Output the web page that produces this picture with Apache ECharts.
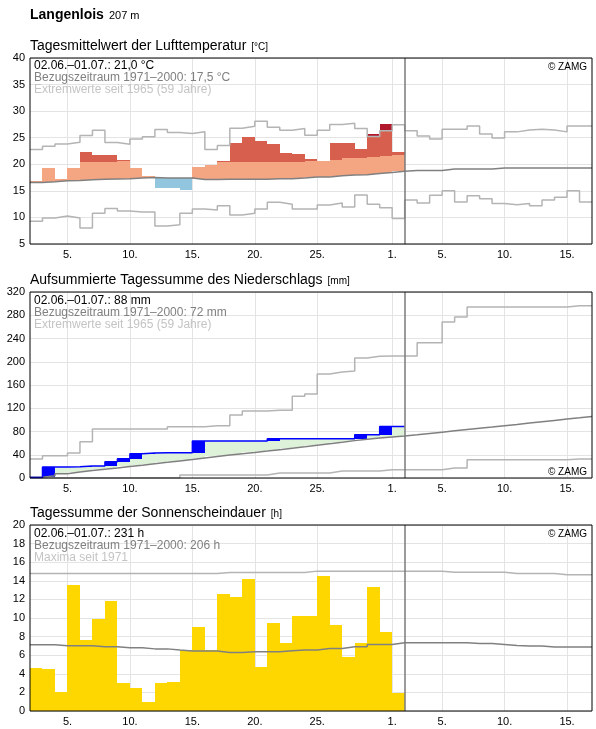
<!DOCTYPE html>
<html>
<head>
<meta charset="utf-8" />
<title>Langenlois</title>
<script src="https://cdn.jsdelivr.net/npm/echarts@6/dist/echarts.min.js"></script>
<style>
html, body { margin:0; padding:0; background:#fff; }
#main { width:596px; height:729px; }
</style>
</head>
<body>
<div id="main"></div>
<script type="text/javascript">
/* Tage ab 02.06. (Index 0 = 02.06., 29 = 01.07., 44 = 16.07.) */
var tickPos  = [3, 8, 13, 18, 23, 29, 33, 38, 43];
var tickText = ['5.', '10.', '15.', '20.', '25.', '1.', '5.', '10.', '15.'];
var dayEnd = 30;   /* Ende 01.07. */
var dayMax = 45;

/* Lufttemperatur, Tagesmittel [°C] */
var tempMean  = [16.8, 19.3, 17.25, 19.3, 22.3, 21.8, 21.8, 20.8, 19.3, 17.8,
                 15.6, 15.6, 15.15, 19.45, 19.85, 20.6, 24.0, 25.1, 24.35, 23.8,
                 22.1, 21.9, 20.95, 20.6, 24.0, 24.0, 22.85, 25.7, 27.55, 22.3];
var tempUpper = [19.9, 20.0, 20.2, 20.3, 20.4, 20.5, 20.5, 20.6, 20.6, 20.6,
                 20.6, 20.6, 20.6, 20.4, 20.4, 20.4, 20.4, 20.4, 20.4, 20.4,
                 20.5, 20.5, 20.6, 20.7, 20.9, 21.2, 21.2, 21.3, 21.55, 21.8];
var tempNorm  = [16.55, 16.7, 16.9, 16.95, 17.1, 17.2, 17.25, 17.3, 17.4, 17.5,
                 17.4, 17.4, 17.4, 17.15, 17.15, 17.2, 17.2, 17.2, 17.2, 17.3,
                 17.3, 17.4, 17.6, 17.6, 17.85, 18.0, 18.05, 18.25, 18.45, 18.7,
                 18.85, 18.85, 18.85, 19.1, 19.1, 19.1, 19.1, 19.3, 19.3, 19.3,
                 19.3, 19.3, 19.3, 19.3, 19.3];
var tempMax   = [22.8, 23.4, 23.8, 24.15, 25.4, 26.4, 24.1, 23.75, 24.75, 25.2,
                 26.55, 26.0, 25.8, 26.1, 22.8, 23.55, 26.8, 27.15, 28.1, 26.95,
                 26.4, 26.75, 25.45, 26.4, 27.5, 27.7, 26.75, 25.25, 26.3, 27.45,
                 26.3, 25.3, 24.75, 26.6, 26.6, 27.2, 25.7, 24.95, 26.1, 26.45,
                 26.6, 26.45, 26.1, 27.2, 27.2];
var tempMin   = [9.3, 9.9, 10.25, 9.9, 8.0, 10.8, 11.7, 11.2, 11.0, 11.0,
                 8.4, 8.6, 10.8, 11.6, 11.4, 12.2, 10.45, 10.8, 11.6, 12.85,
                 12.5, 11.6, 11.6, 12.35, 12.7, 11.95, 14.2, 12.5, 11.8, 9.8,
                 13.3, 12.7, 14.15, 15.0, 12.9, 14.1, 13.5, 12.6, 12.4, 12.6,
                 12.2, 13.3, 13.8, 15.0, 12.9];

/* Niederschlag, Tagessumme [mm] und Summenkurven */
var rainDay  = [1.0, 18.0, 0, 0.5, 1.0, 0, 7.5, 5.2, 8.6, 1.2,
                0.6, 0, 0, 20.1, 0, 0, 0, 0, 0, 3.9,
                0, 0, 0, 0, 0, 0, 6.9, 0, 14.3, 0];
var rainNorm = [1.5, 4.0, 7.5, 10.3, 12.8, 15.2, 17.3, 19.8, 22.0, 24.6,
                26.9, 29.3, 31.7, 34.4, 37.0, 39.4, 41.8, 44.0, 46.3, 48.8,
                51.3, 53.8, 56.5, 59.0, 61.5, 64.3, 66.8, 69.0, 70.7, 72.2,
                74.3, 76.6, 78.9, 81.1, 83.3, 85.5, 87.7, 90.0, 92.2, 94.5,
                96.8, 99.0, 101.3, 103.6, 106.0];
var rainMax  = [32.7, 38.4, 38.4, 43.0, 62.5, 84.3, 84.3, 84.3, 84.3, 84.3,
                84.3, 88.3, 88.3, 88.3, 90.0, 90.0, 108.4, 115.3, 115.3, 116.4,
                116.4, 140.5, 144.5, 178.9, 182.3, 184.0, 206.4, 209.3, 210.0, 210.0,
                210.0, 232.8, 232.8, 268.4, 277.0, 294.2, 294.2, 294.2, 294.2, 294.2,
                294.2, 294.2, 294.2, 296.4, 296.4];
var rainMin  = [0, 0, 0, 0, 0, 0, 0, 0, 0, 0,
                0, 0, 5.2, 5.2, 5.2, 5.2, 5.2, 5.2, 5.2, 8.6,
                8.6, 8.6, 8.6, 8.6, 12.0, 12.0, 12.0, 12.0, 14.3, 14.3,
                14.3, 14.3, 14.3, 17.2, 17.2, 31.5, 31.5, 31.5, 31.5, 31.5,
                31.5, 31.5, 31.5, 32.7, 32.7];

/* Sonnenscheindauer [h] */
var sunDay  = [4.64, 4.53, 2.05, 13.5, 7.66, 9.93, 11.87, 3.02, 2.48, 0.97,
               3.02, 3.13, 6.51, 9.06, 6.55, 12.63, 12.3, 14.24, 4.75, 9.5,
               7.34, 10.25, 10.25, 14.53, 9.28, 5.86, 7.34, 13.38, 8.53, 1.94];
var sunNorm = [7.12, 7.12, 7.02, 7.02, 7.02, 6.9, 6.9, 6.8, 6.8, 6.68,
               6.68, 6.55, 6.44, 6.44, 6.44, 6.3, 6.3, 6.36, 6.36, 6.36,
               6.47, 6.57, 6.57, 6.72, 6.72, 6.92, 6.92, 7.15, 7.15, 7.35,
               7.35, 7.35, 7.35, 7.35, 7.35, 7.25, 7.25, 7.15, 7.05, 6.98,
               6.98, 6.88, 6.88, 6.88, 6.88];
var sunMax  = [14.78, 14.78, 14.78, 14.78, 14.78, 14.78, 14.78, 14.78, 14.78, 14.78,
               14.78, 14.78, 14.78, 14.78, 14.78, 14.89, 14.89, 14.89, 14.89, 14.89,
               14.89, 14.89, 15.04, 15.04, 15.04, 15.04, 15.04, 15.04, 15.04, 15.04,
               15.03, 15.03, 15.03, 14.92, 14.92, 14.92, 14.92, 14.92, 14.78, 14.78,
               14.78, 14.78, 14.64, 14.64, 14.64];

var FONT = '"Liberation Sans", Arial, sans-serif';
var chart = echarts.init(document.getElementById('main'), null, {renderer: 'canvas'});

/* Stufenlinie: Wert gilt fuer den ganzen Tag */
function stepData(arr) {
    var d = [];
    for (var i = 0; i < arr.length; i++) d.push([i, arr[i]]);
    d.push([arr.length, arr[arr.length - 1]]);
    return d;
}
function stepLine(k, arr, color, width, z) {
    return {
        type: 'line', xAxisIndex: k, yAxisIndex: k, step: 'end',
        data: stepData(arr), symbol: 'none', silent: true, z: z,
        lineStyle: {color: color, width: width}
    };
}
/* Rechteck zwischen zwei Werten fuer Tag i, auf ganze Pixel gerundet */
function box(api, i, lo, hi, color) {
    var a = api.coord([i, hi]), b = api.coord([i + 1, lo]);
    var x0 = Math.round(a[0]), x1 = Math.round(b[0]);
    var y0 = Math.round(a[1]), y1 = Math.round(b[1]);
    return {type: 'rect', shape: {x: x0, y: y0, width: x1 - x0, height: Math.max(y1 - y0, 0)},
            style: {fill: color}};
}
/* senkrechte Gitterlinien (unter den Balken) */
function gridLines(k, yv) {
    return {
        type: 'line', xAxisIndex: k, yAxisIndex: k, data: [[0, yv]], symbol: 'none', silent: true, z: 1,
        markLine: {silent: true, symbol: 'none', label: {show: false}, animation: false, z: 1,
            lineStyle: {color: '#e4e4e4', width: 1, type: 'solid'},
            data: tickPos.map(function (p) { return {xAxis: p}; })}
    };
}
/* Trennlinie Ende 01.07. */
function endLine(k, yv) {
    return {
        type: 'line', xAxisIndex: k, yAxisIndex: k, data: [[0, yv]], symbol: 'none', silent: true, z: 6,
        markLine: {silent: true, symbol: 'none', label: {show: false}, animation: false, z: 6,
            lineStyle: {color: '#7a7a7a', width: 1.5, type: 'solid'},
            data: [{xAxis: dayEnd}]}
    };
}

var tempData = tempMean.map(function (t, i) { return [i, t, tempNorm[i], tempUpper[i], tempMax[i]]; });
var rainData = [];
var cum = 0, rainCum = [];
for (var i = 0; i < rainDay.length; i++) {
    var prev = cum;
    cum += rainDay[i];
    rainCum.push(+cum.toFixed(1));
    rainData.push([i, cum, prev, rainNorm[i]]);
}
var sunData = sunDay.map(function (v, i) { return [i, v]; });

var tops = [58, 292, 525];
var grids = tops.map(function (t) {
    return {left: 30, top: t, width: 562, height: 186, show: true, z: 10,
            borderColor: '#000', borderWidth: 1, backgroundColor: 'transparent'};
});
var xAxes = tops.map(function (t, k) {
    return {
        type: 'value', gridIndex: k, min: 0, max: dayMax, interval: 1,
        axisLine: {show: false}, axisTick: {show: false}, splitLine: {show: false},
        axisLabel: {color: '#000', fontSize: 11, fontFamily: FONT, margin: 5,
            formatter: function (v) { var n = tickPos.indexOf(v); return n >= 0 ? tickText[n] : ''; }}
    };
});
var yDefs = [[5, 40, 5], [0, 320, 40], [0, 20, 2]];
var yAxes = yDefs.map(function (d, k) {
    return {
        type: 'value', gridIndex: k, min: d[0], max: d[1], interval: d[2],
        axisLine: {show: false}, axisTick: {show: false},
        splitLine: {lineStyle: {color: '#e4e4e4', width: 1}},
        axisLabel: {color: '#000', fontSize: 11, fontFamily: FONT, margin: 5}
    };
});

function titleText(main, unit, top) {
    return {
        text: '{a|' + main + '} {u|[' + unit + ']}', left: 30, top: top, padding: 0,
        textStyle: {fontWeight: 'normal', rich: {
            a: {fontSize: 14, color: '#000', fontFamily: FONT, fontWeight: 'normal'},
            u: {fontSize: 10, color: '#000', fontFamily: FONT, fontWeight: 'normal', padding: [2, 0, 0, 0]}
        }}
    };
}
function infoText(top, l1, l2, l3) {
    return {
        type: 'text', left: 34, top: top, z: 20, silent: true,
        style: {
            text: '{a|' + l1 + '}\n{b|' + l2 + '}\n{c|' + l3 + '}',
            rich: {
                a: {fontSize: 12, fontFamily: FONT, fill: '#000', lineHeight: 12},
                b: {fontSize: 12, fontFamily: FONT, fill: '#808080', lineHeight: 12},
                c: {fontSize: 12, fontFamily: FONT, fill: '#c4c4c4', lineHeight: 12}
            }
        }
    };
}
function zamg(top) {
    return {type: 'text', right: 9, top: top, z: 20, silent: true,
            style: {text: '\u00a9 ZAMG', fontSize: 10, fontFamily: FONT, fill: '#000'}};
}

var option = {
    animation: false,
    backgroundColor: '#fff',
    title: [
        {text: '{a|Langenlois} {b|207 m}', left: 30, top: 6, padding: 0,
         textStyle: {rich: {a: {fontSize: 14, fontWeight: 'bold', color: '#000', fontFamily: FONT},
                            b: {fontSize: 11, fontWeight: 'normal', color: '#000', fontFamily: FONT, padding: [2, 0, 0, 0]}}}},
        titleText('Tagesmittelwert der Lufttemperatur', '\u00b0C', 37),
        titleText('Aufsummierte Tagessumme des Niederschlags', 'mm', 271),
        titleText('Tagessumme der Sonnenscheindauer', 'h', 504)
    ],
    grid: grids,
    xAxis: xAxes,
    yAxis: yAxes,
    graphic: [
        infoText(60, '02.06.\u201301.07.: 21,0 \u00b0C', 'Bezugszeitraum 1971\u20132000: 17,5 \u00b0C', 'Extremwerte seit 1965 (59 Jahre)'),
        infoText(295, '02.06.\u201301.07.: 88 mm', 'Bezugszeitraum 1971\u20132000: 72 mm', 'Extremwerte seit 1965 (59 Jahre)'),
        infoText(528, '02.06.\u201301.07.: 231 h', 'Bezugszeitraum 1971\u20132000: 206 h', 'Maxima seit 1971'),
        zamg(62), zamg(467), zamg(529)
    ],
    series: [
        /* Temperatur */
        gridLines(0, 5),
        {
            type: 'custom', xAxisIndex: 0, yAxisIndex: 0, data: tempData, z: 2, silent: true,
            encode: {x: 0, y: 1},
            renderItem: function (params, api) {
                var i = api.value(0), t = api.value(1), n = api.value(2), s = api.value(3), mx = api.value(4);
                var parts = [];
                if (t >= n) {
                    parts.push(box(api, i, n, Math.min(t, s), '#f4a582'));
                    if (t > s) parts.push(box(api, i, s, Math.min(t, mx), '#d6604d'));
                    if (t > mx) parts.push(box(api, i, mx, t, '#b2182b'));
                } else {
                    parts.push(box(api, i, t, n, '#92c5de'));
                }
                return {type: 'group', children: parts};
            }
        },
        stepLine(0, tempMax, '#b4b4b4', 1.5, 3),
        stepLine(0, tempMin, '#b4b4b4', 1.5, 3),
        stepLine(0, tempNorm, '#808080', 1.5, 4),
        endLine(0, 5),

        /* Niederschlag */
        gridLines(1, 0),
        {
            type: 'custom', xAxisIndex: 1, yAxisIndex: 1, data: rainData, z: 2, silent: true,
            encode: {x: 0, y: 1},
            renderItem: function (params, api) {
                var i = api.value(0), c = api.value(1), p = api.value(2), n = api.value(3);
                var parts = [];
                if (c > n) parts.push(box(api, i, n, c, '#def2d9'));
                if (c > p) parts.push(box(api, i, p, c, '#0000ff'));
                return {type: 'group', children: parts};
            }
        },
        stepLine(1, rainMax, '#b4b4b4', 1.5, 3),
        stepLine(1, rainMin, '#b4b4b4', 1.5, 3),
        stepLine(1, rainNorm, '#808080', 1.5, 4),
        stepLine(1, rainCum, '#0000ff', 1.5, 5),
        endLine(1, 0),

        /* Sonnenschein */
        gridLines(2, 0),
        {
            type: 'custom', xAxisIndex: 2, yAxisIndex: 2, data: sunData, z: 2, silent: true,
            encode: {x: 0, y: 1},
            renderItem: function (params, api) {
                return box(api, api.value(0), 0, api.value(1), '#ffd700');
            }
        },
        stepLine(2, sunMax, '#b4b4b4', 1.5, 3),
        stepLine(2, sunNorm, '#808080', 1.5, 4),
        endLine(2, 0)
    ]
};

chart.setOption(option);
window.onresize = chart.resize;
</script>
</body>
</html>
